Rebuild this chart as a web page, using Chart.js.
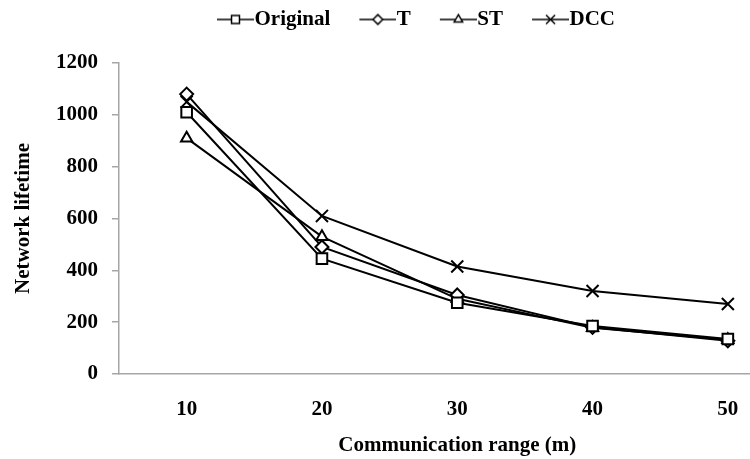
<!DOCTYPE html>
<html>
<head>
<meta charset="utf-8">
<script src="https://cdn.jsdelivr.net/npm/chart.js@4.4.0/dist/chart.umd.min.js"></script>
<style>
  html, body { margin: 0; padding: 0; background: #fff; overflow: hidden; }
  #wrap { width: 806px; height: 459px; }
</style>
</head>
<body>
<div id="wrap"><canvas id="grafico" width="806" height="459"></canvas></div>
<script>
// dados
const ranges = ['10', '20', '30', '40', '50'];
const original = [1010, 445, 275, 185, 135];
const tValues = [1080, 490, 305, 180, 128];
const stValues = [910, 530, 290, 178, 132];
const dccValues = [1050, 610, 415, 320, 270];
const yTicks = [0, 200, 400, 600, 800, 1000, 1200];

const FONTE = 'Liberation Serif, Times New Roman, serif';
const CINZA = '#a6a6a6';

const series = [
  { label: 'Original', data: original, estilo: 'rect', raio: 7.5 },
  { label: 'T', data: tValues, estilo: 'rectRot', raio: 6.5 },
  { label: 'ST', data: stValues, estilo: 'triangle', raio: 6.5 },
  { label: 'DCC', data: dccValues, estilo: 'crossRot', raio: 8.5 }
];

// marcador da legenda: linha com o símbolo no meio
function marcaLegenda(estilo, raio) {
  const c = document.createElement('canvas');
  c.width = 60;
  c.height = 20;
  const ctx = c.getContext('2d');
  ctx.strokeStyle = '#000';
  ctx.fillStyle = '#fff';
  ctx.lineWidth = 1.5;
  ctx.beginPath();
  ctx.moveTo(23, 10);
  ctx.lineTo(60, 10);
  ctx.stroke();
  Chart.helpers.drawPoint(ctx, { pointStyle: estilo, radius: raio, borderWidth: 1.5, rotation: 0 }, 41.5, 10);
  return c;
}

const marcas = series.map(s => marcaLegenda(s.estilo, s.raio * 0.75));

const espacoLegenda = {
  id: 'espacoLegenda',
  beforeInit(chart) {
    const fitOriginal = chart.legend.fit;
    chart.legend.fit = function () {
      fitOriginal.bind(this)();
      this.height += 23;
    };
  }
};

new Chart(document.getElementById('grafico'), {
  type: 'line',
  data: {
    labels: ranges,
    datasets: series.map(s => ({
      label: s.label,
      data: s.data,
      borderColor: '#000',
      borderWidth: 2,
      backgroundColor: '#fff',
      pointStyle: s.estilo,
      pointRadius: s.raio,
      pointBorderWidth: 2,
      pointBorderColor: '#000',
      pointBackgroundColor: '#fff',
      tension: 0
    }))
  },
  plugins: [espacoLegenda],
  options: {
    responsive: false,
    animation: false,
    layout: { padding: { left: 16, right: 3, top: -7, bottom: 0 } },
    plugins: {
      legend: {
        position: 'top',
        labels: {
          usePointStyle: true,
          pointStyleWidth: 40,
          padding: 16,
          color: '#000',
          font: { family: FONTE, size: 21, weight: 'bold' },
          generateLabels: chart => Chart.defaults.plugins.legend.labels.generateLabels(chart)
            .map((item, i) => ({ ...item, pointStyle: marcas[i] }))
        }
      },
      tooltip: { enabled: false }
    },
    scales: {
      x: {
        offset: true,
        grid: { display: false },
        border: { color: CINZA, width: 1.5 },
        ticks: { color: '#000', padding: 15, font: { family: FONTE, size: 21, weight: 'bold' } },
        title: {
          display: true,
          text: 'Communication range (m)',
          color: '#000',
          font: { family: FONTE, size: 21, weight: 'bold' },
          padding: { top: 0, bottom: 1 }
        },
        afterFit: s => { s.height = 85; }
      },
      y: {
        min: 0,
        max: 1200,
        afterBuildTicks: s => { s.ticks = yTicks.map(v => ({ value: v })); },
        grid: { drawOnChartArea: false, drawTicks: true, tickLength: 7, color: CINZA, lineWidth: 1.5 },
        border: { color: CINZA, width: 1.5 },
        ticks: {
          color: '#000',
          padding: 14,
          font: { family: FONTE, size: 21, weight: 'bold' },
          callback: v => String(v)
        },
        title: {
          display: true,
          text: 'Network lifetime',
          color: '#000',
          font: { family: FONTE, size: 21, weight: 'bold' },
          padding: { top: -5, bottom: 0 }
        },
        afterFit: s => { s.width = 103; }
      }
    }
  }
});
</script>
</body>
</html>
